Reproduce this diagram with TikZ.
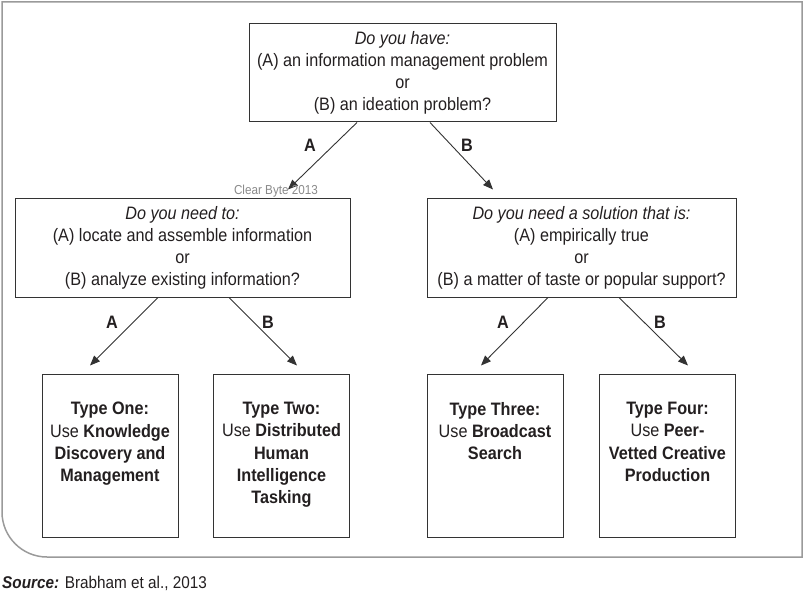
\documentclass[tikz,border=0pt]{standalone}
\usepackage{fontspec}
\setmainfont{Liberation Sans}[FakeStretch=0.9]
\usetikzlibrary{arrows.meta}
\definecolor{framec}{HTML}{9A9A9A}
\definecolor{boxc}{HTML}{333333}
\definecolor{txtc}{HTML}{231F20}
\definecolor{wmc}{HTML}{8A8A8A}
\begin{document}
\begin{tikzpicture}[x=1pt,y=-1pt,
  qbox/.style={draw=boxc, line width=1pt, inner sep=0pt, align=center, text=txtc,
    font=\fontsize{18}{22}\selectfont},
  tbox/.style={draw=boxc, line width=1pt, inner sep=0pt, minimum width=136pt, minimum height=163pt},
  ttext/.style={inner sep=0pt, align=center, text=txtc, anchor=north,
    font=\fontsize{18}{22.3}\selectfont},
  conn/.style={draw=boxc, line width=0.9pt, -{Triangle[length=10pt,width=8pt]}},
  lbl/.style={inner sep=0pt, text=txtc, font=\fontsize{18}{20}\selectfont\bfseries},
]
\useasboundingbox (0,0) rectangle (807,594);
% frame
\draw[framec, line width=1.5pt] (47,557) -- (802,557) -- (802,2) -- (2,2) -- (2,512)
  .. controls (2,536.8) and (22.2,557) .. (47,557) -- cycle;
% question boxes
\node[qbox, minimum width=307pt, minimum height=98pt] (q0) at (402.5,73)
  {\itshape Do you have:\\(A) an information management problem\\or\\(B) an ideation problem?};
\node[qbox, minimum width=335pt, minimum height=99pt] (q1) at (182.5,247.5)
  {\itshape Do you need to:\\(A) locate and assemble information\\or\\(B) analyze existing information?};
\node[qbox, minimum width=309pt, minimum height=99pt] (q2) at (581.5,247.5)
  {\itshape Do you need a solution that is:\\(A) empirically true\\or\\(B) a matter of taste or popular support?};
% type boxes
\node[tbox] (b1) at (110,455.5) {};
\node[tbox] (b2) at (281.5,455.5) {};
\node[tbox] (b3) at (495,455.5) {};
\node[tbox] (b4) at (667.5,455.5) {};
\node[ttext] (t1) at (110,402) {\bfseries Type One:\\Use \textbf{Knowledge}\\\textbf{Discovery and}\\\textbf{Management}};
\node[ttext] (t2) at (281.5,402) {\bfseries Type Two:\\Use \textbf{Distributed}\\\textbf{Human}\\\textbf{Intelligence}\\\textbf{Tasking}};
\node[ttext] (t3) at (495,402) {\bfseries Type Three:\\Use \textbf{Broadcast}\\\textbf{Search}};
\node[ttext] (t4) at (667.5,402) {\bfseries Type Four:\\Use \textbf{Peer-}\\\textbf{Vetted Creative}\\\textbf{Production}};
% connectors
\draw[conn] ([xshift=-45.5pt]q0.south) -- ([xshift=105.5pt,yshift=8pt]q1.north);
\draw[conn] ([xshift=27.5pt]q0.south) -- ([xshift=-88.5pt,yshift=8pt]q2.north);
\draw[conn] ([xshift=-24.5pt]q1.south) -- ([xshift=-20pt,yshift=8pt]b1.north);
\draw[conn] ([xshift=46.5pt]q1.south) -- ([xshift=15.5pt,yshift=8pt]b2.north);
\draw[conn] ([xshift=-33.5pt]q2.south) -- ([xshift=-14pt,yshift=8pt]b3.north);
\draw[conn] ([xshift=37.5pt]q2.south) -- ([xshift=20.5pt,yshift=8pt]b4.north);
% labels
\node[lbl] (l1) at (310,145) {A};
\node[lbl] (l2) at (467,145) {B};
\node[lbl] (l3) at (112,322) {A};
\node[lbl] (l4) at (268,322) {B};
\node[lbl] (l5) at (503,322) {A};
\node[lbl] (l6) at (660,322) {B};
% watermark and source
\node[inner sep=0pt, text=wmc, font=\fontsize{13}{14}\selectfont] (wm) at (276,191) {Clear Byte 2013};
\node[inner sep=0pt, anchor=west, text=txtc, font=\fontsize{17}{20}\selectfont] (src) at (2,583)
  {\textbf{\textit{Source:}} Brabham et al., 2013};
\end{tikzpicture}
\end{document}
